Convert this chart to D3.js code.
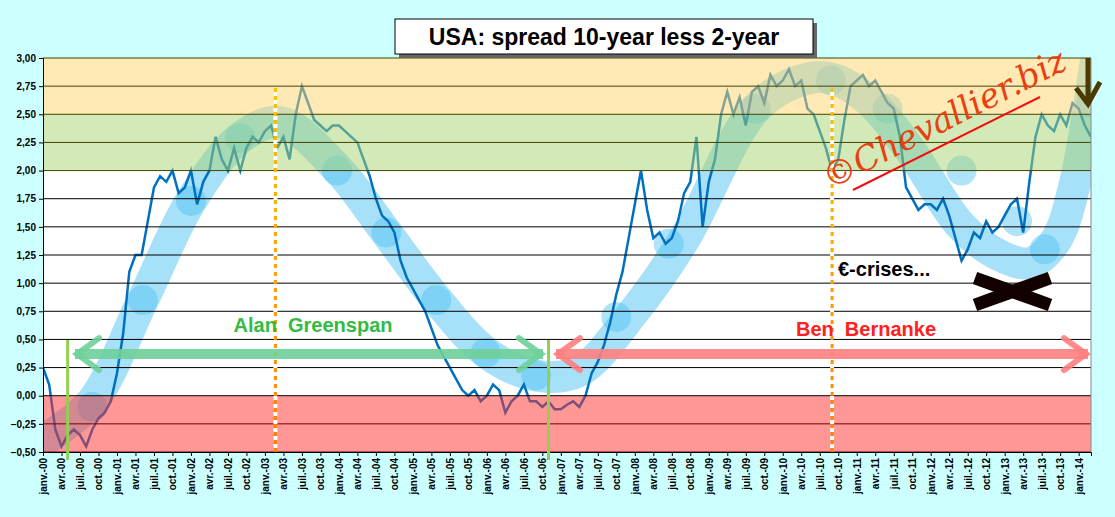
<!DOCTYPE html>
<html><head><meta charset="utf-8">
<script src="https://cdn.jsdelivr.net/npm/d3@7"></script>
<style>body{margin:0;background:#ccffff;}svg{display:block;font-family:Arial,"Liberation Sans",sans-serif;}</style>
</head><body><svg id="c" width="1115" height="517"></svg>
<script>
// monthly spread 10y-2y, jan 2000 .. mar 2014
var spread = [
 0.25,0.10,-0.30,-0.45,-0.35,-0.30,-0.35,-0.45,-0.30,-0.20,-0.15,-0.05,
 0.20,0.55,1.10,1.25,1.25,1.55,1.85,1.95,1.90,2.00,1.80,1.85,
 2.00,1.70,1.90,2.00,2.30,2.10,2.00,2.20,2.00,2.20,2.30,2.25,
 2.35,2.40,2.20,2.30,2.10,2.50,2.75,2.60,2.45,2.40,2.35,2.40,
 2.40,2.35,2.30,2.25,2.10,1.95,1.75,1.60,1.55,1.45,1.20,1.05,
 0.95,0.85,0.75,0.60,0.45,0.35,0.25,0.15,0.05,0.00,0.05,-0.05,
 0.00,0.10,0.05,-0.15,-0.05,0.00,0.10,-0.05,-0.05,-0.10,-0.05,-0.12,
 -0.12,-0.08,-0.05,-0.10,0.00,0.20,0.30,0.45,0.65,0.90,1.10,1.40,
 1.70,2.00,1.65,1.40,1.45,1.35,1.40,1.55,1.80,1.90,2.30,1.50,
 1.90,2.10,2.50,2.70,2.50,2.65,2.40,2.70,2.75,2.60,2.85,2.75,
 2.80,2.90,2.75,2.80,2.55,2.50,2.35,2.20,2.00,2.10,2.45,2.75,
 2.80,2.85,2.75,2.80,2.70,2.60,2.55,2.30,1.85,1.75,1.65,1.70,
 1.70,1.65,1.75,1.60,1.40,1.20,1.30,1.45,1.40,1.55,1.45,1.50,
 1.60,1.70,1.75,1.45,1.90,2.30,2.50,2.40,2.35,2.50,2.40,2.60,
 2.55,2.40,2.30
];
var monthNames = ["janv.","avr.","juil.","oct."];
var yTicks = [-0.5,-0.25,0,0.25,0.5,0.75,1,1.25,1.5,1.75,2,2.25,2.5,2.75,3];
// trend ribbon control points [month index, value]
var ribbon = [[-3,-0.6],[0.3,-0.4],[8,-0.05],[16.2,0.85],[24,1.73],[32,2.29],[38.5,2.43],[47.7,2.02],[55.7,1.45],[63.8,0.86],[72,0.38],[79.9,0.18],[87,0.22],[95.6,0.73],[103.9,1.38],[115.6,2.55],[122.9,2.8],[127.8,2.82],[134,2.62],[140.7,2.18],[148.9,1.51],[155.4,1.24],[160.2,1.18],[164.3,1.38],[167.5,1.91],[170.8,2.98],[172,3.4]];
var bubbles = [[8,-0.1],[16.2,0.85],[24,1.73],[32,2.29],[47.7,2.0],[55.7,1.45],[63.8,0.85],[71.8,0.38],[80,0.18],[93,0.7],[101.5,1.35],[115.6,2.55],[127.8,2.8],[137,2.55],[149,2.0],[158,1.55],[162.5,1.3],[170,2.6]];

var svg = d3.select("#c");
var L = 43, R = 1091, T = 58, B = 452;
var x = d3.scaleLinear().domain([0, 170]).range([L, R]);
var y = d3.scaleLinear().domain([-0.5, 3]).range([B, T]);

svg.append("rect").attr("x", L).attr("y", T).attr("width", R - L).attr("height", B - T).attr("fill", "#fff");

// translucent ribbon
var line = d3.line().x(function(d){return x(d[0]);}).y(function(d){return y(d[1]);}).curve(d3.curveCatmullRom);
svg.append("clipPath").attr("id","pc").append("rect").attr("x",L).attr("y",T).attr("width",R-L).attr("height",B-T);
var g = svg.append("g").attr("clip-path","url(#pc)");
g.append("path").datum(ribbon).attr("d", line).attr("fill","none").attr("stroke","#6ccdf5").attr("stroke-opacity",0.6).attr("stroke-width",32).attr("stroke-linecap","round");
g.selectAll("circle").data(bubbles).enter().append("circle").attr("cx",function(d){return x(d[0]);}).attr("cy",function(d){return y(d[1]);}).attr("r",15).attr("fill","#4cc0f0").attr("opacity",0.45);

// spread line
var sline = d3.line().x(function(d,i){return x(i);}).y(function(d){return y(d);});
g.append("path").datum(spread).attr("d", sline).attr("fill","none").attr("stroke","#0070c0").attr("stroke-width",2.5);

// coloured bands on top, translucent
var bands = [[2.5,3,"#ffd66b",0.5],[2,2.5,"#a8d470",0.5],[-0.5,0,"#ff3030",0.5]];
svg.selectAll(".band").data(bands).enter().append("rect").attr("x",L).attr("width",R-L)
  .attr("y",function(d){return y(d[1]);}).attr("height",function(d){return y(d[0])-y(d[1]);})
  .attr("fill",function(d){return d[2];}).attr("opacity",function(d){return d[3];});

// gridlines
svg.selectAll(".grid").data(yTicks).enter().append("line").attr("x1",L).attr("x2",R)
  .attr("y1",function(d){return y(d);}).attr("y2",function(d){return y(d);})
  .attr("stroke",function(d){return d>=2?"#444400":(d<0?"#700":"#000");}).attr("stroke-width",1);
svg.append("line").attr("x1",R).attr("x2",R).attr("y1",T).attr("y2",B).attr("stroke","#888");

// axes
var fmt = function(d){return d3.format(".2f")(d).replace(".",",");};
svg.append("g").attr("transform","translate("+L+",0)").call(d3.axisLeft(y).tickValues(yTicks).tickFormat(fmt).tickSize(4))
  .call(function(a){a.select(".domain").attr("stroke","#000");a.selectAll("text").attr("font-size",10).attr("font-weight","bold").attr("fill","#000");});
var xt = d3.range(0, 169, 3);
svg.append("g").attr("transform","translate(0,"+B+")").call(d3.axisBottom(x).tickValues(xt).tickSize(4)
  .tickFormat(function(d){var yy=Math.floor(d/12);return monthNames[(d%12)/3]+"-"+(yy<10?"0":"")+yy;}))
  .call(function(a){a.select(".domain").attr("stroke","#000");a.selectAll("text").attr("font-size",10).attr("font-weight","bold").attr("fill","#000")
    .attr("transform","rotate(-90)").attr("text-anchor","end").attr("x",-6).attr("y",0).attr("dy","0.35em");});

// vertical markers
[4,82].forEach(function(m){svg.append("line").attr("x1",x(m)).attr("x2",x(m)).attr("y1",340).attr("y2",B+8).attr("stroke","#92d050").attr("stroke-width",3);});
var grad = svg.append("defs").append("linearGradient").attr("id","og").attr("x1",0).attr("x2",0).attr("y1",0).attr("y2",1);
grad.append("stop").attr("offset","0").attr("stop-color","#ffc000");
grad.append("stop").attr("offset","1").attr("stop-color","#ff8000");
[37.7,128].forEach(function(m){svg.append("rect").attr("x",x(m)-1.5).attr("width",3).attr("y",88).attr("height",B-88).attr("fill","url(#og)");
  svg.append("line").attr("x1",x(m)).attr("x2",x(m)).attr("y1",88).attr("y2",B).attr("stroke","#fff").attr("stroke-width",4).attr("stroke-dasharray","4,4").attr("stroke-dashoffset",4);});

// arrows
function arrow(x1,x2,yy,col){
  svg.append("line").attr("x1",x1).attr("x2",x2).attr("y1",yy).attr("y2",yy).attr("stroke",col).attr("stroke-width",10).attr("opacity",0.9);
  [[x1,1],[x2,-1]].forEach(function(e){svg.append("path").attr("d","M"+(e[0]+e[1]*24)+","+(yy-16)+"L"+(e[0]+e[1]*2)+","+yy+"L"+(e[0]+e[1]*24)+","+(yy+16))
    .attr("fill","none").attr("stroke",col).attr("stroke-width",6).attr("stroke-linecap","round").attr("opacity",0.9);});
}
arrow(75,543,y(0.37),"#6fd09a");
arrow(556,1088,y(0.37),"#ff8080");

svg.append("text").attr("x",313).attr("y",332).attr("text-anchor","middle").attr("font-size",20).attr("font-weight","bold").attr("fill","#33bb44").attr("xml:space","preserve").text("Alan  Greenspan");
svg.append("text").attr("x",866).attr("y",336).attr("text-anchor","middle").attr("font-size",20).attr("font-weight","bold").attr("fill","#ff2020").attr("xml:space","preserve").text("Ben  Bernanke");
svg.append("text").attr("x",838).attr("y",276).attr("font-size",20).attr("font-weight","bold").attr("fill","#000").text("€-crises...");

// black cross
svg.append("path").attr("d","M975,278L1050,305M975,305L1050,278").attr("stroke","#120000").attr("stroke-width",13);
// dark arrow top right
svg.append("path").attr("d","M1088,58L1088,102M1076,88L1088,104L1100,82").attr("fill","none").attr("stroke","#4a3a00").attr("stroke-width",5);

// watermark
svg.append("text").attr("transform","translate(830,190) rotate(-27)").attr("font-size",34).attr("font-style","italic").attr("font-family","'DejaVu Serif',serif").attr("fill","#e84010").text("©Chevallier.biz");
svg.append("line").attr("x1",853).attr("y1",190).attr("x2",1040).attr("y2",97).attr("stroke","#ee1010").attr("stroke-width",2);

// title
svg.append("rect").attr("x",399).attr("y",23).attr("width",418).attr("height",35).attr("fill","#666");
svg.append("rect").attr("x",395).attr("y",19).attr("width",418).attr("height",35).attr("fill","#fff").attr("stroke","#000");
svg.append("text").attr("x",604).attr("y",45).attr("text-anchor","middle").attr("font-size",23).attr("font-weight","bold").attr("fill","#000").text("USA: spread 10-year less 2-year");
</script></body></html>
